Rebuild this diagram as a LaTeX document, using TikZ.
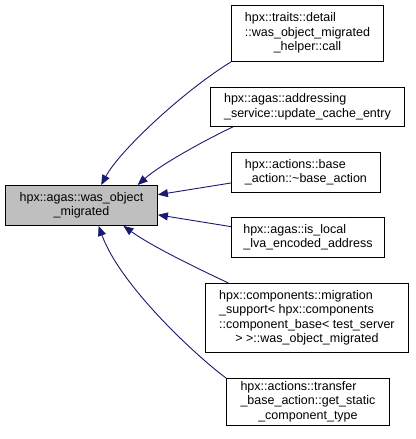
\documentclass[tikz,border=0pt]{standalone}
\usepackage{fontspec}
\setmainfont{Liberation Sans}
\usetikzlibrary{arrows.meta}
\definecolor{edgecol}{HTML}{191970}
\definecolor{maingray}{HTML}{BFBFBF}
\newcommand{\lastln}[1]{\multicolumn{1}{@{}c@{}}{#1}}
\newcommand{\lbl}[1]{\begin{tabular}{@{}l@{}}#1\end{tabular}}
\begin{document}
\begin{tikzpicture}[x=1pt,y=-1pt,
  box/.style={draw=black, fill=white, line width=0.9pt, inner sep=0pt,
    font=\fontsize{12.5}{14.5}\selectfont, anchor=north west},
  edge/.style={draw=edgecol, line width=0.9pt, -{Triangle[length=10pt,width=8pt]}, fill=none}]
\useasboundingbox (0,0) rectangle (415,439);

\node[box, fill=maingray, minimum width=152pt, minimum height=40pt] (main) at (5,185)
  {\lbl{hpx::agas::was\_object\\\lastln{\_migrated}}};

\node[box, minimum width=152pt, minimum height=56pt] (n1) at (231,5)
  {\lbl{hpx::traits::detail\\::was\_object\_migrated\\\lastln{\_helper::call}}};
\node[box, minimum width=194pt, minimum height=39pt] (n2) at (210,87)
  {\lbl{hpx::agas::addressing\\\lastln{\_service::update\_cache\_entry}}};
\node[box, minimum width=149pt, minimum height=40pt] (n3) at (231,152)
  {\lbl{hpx::actions::base\\\lastln{\_action::\textasciitilde base\_action}}};
\node[box, minimum width=153pt, minimum height=40pt] (n4) at (231,217)
  {\lbl{hpx::agas::is\_local\\\lastln{\_lva\_encoded\_address}}};
\node[box, minimum width=203pt, minimum height=69pt] (n5) at (205,283)
  {\lbl{hpx::components::migration\\\_support< hpx::components\\::component\_base< test\_server\\\lastln{> >::was\_object\_migrated}}};
\node[box, minimum width=163pt, minimum height=47pt] (n6) at (226,378)
  {\lbl{hpx::actions::transfer\\\_base\_action::get\_static\\\lastln{\_component\_type}}};

\draw[edge] (n1.south west) .. controls (185,90) and (120,150) .. (main.46);
\draw[edge] (n2.195) .. controls (205,140) and (160,165) .. (main.20);
\draw[edge] (n3.188) -- (main.8);
\draw[edge] (n4.172) -- (main.353);
\draw[edge] (n5.156) .. controls (190,265) and (150,245) .. (main.334);
\draw[edge] (n6.north west) .. controls (195,355) and (120,285) .. (main.310);
\end{tikzpicture}
\end{document}
